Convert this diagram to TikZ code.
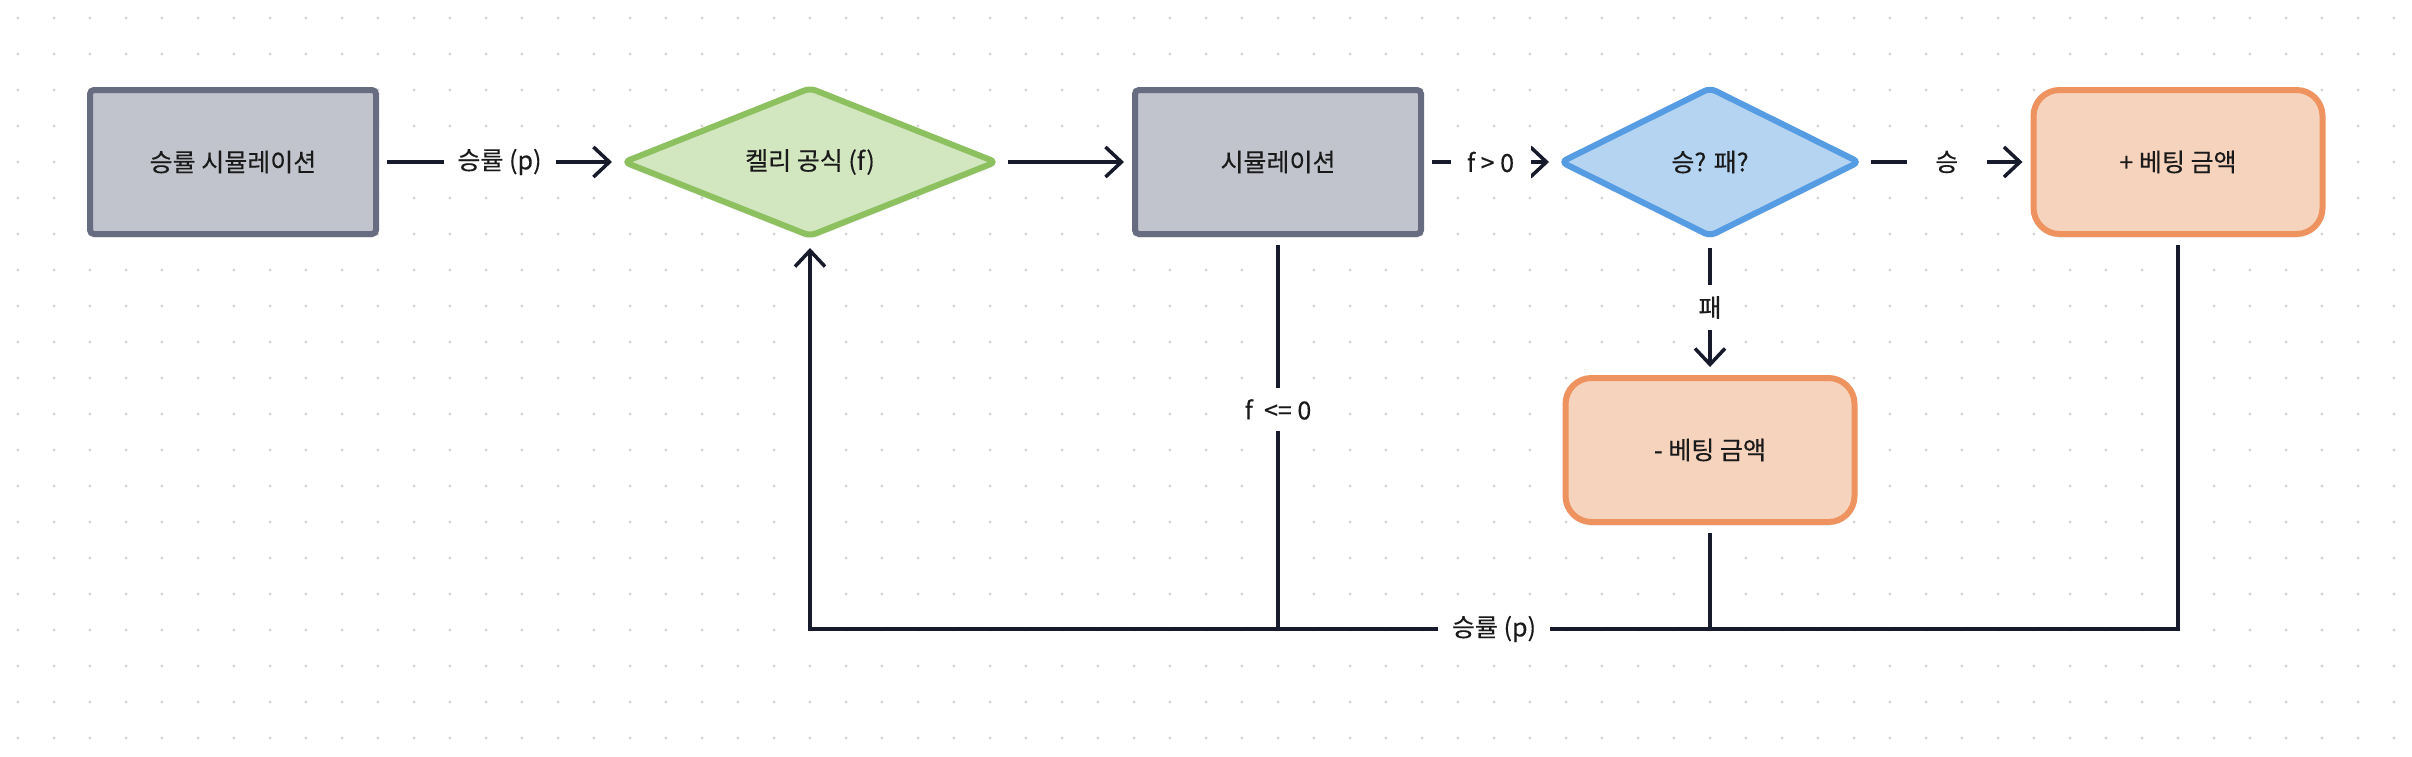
\documentclass[tikz,border=0pt]{standalone}
\usepackage{fontspec}
\setmainfont{Noto Sans CJK KR}[FakeBold=0.3]
\usepackage{tikz}
\usetikzlibrary{shapes,arrows.meta,shadows}
\definecolor{gridgray}{HTML}{D6D6D6}
\definecolor{linedark}{HTML}{161A2B}
\definecolor{textdark}{HTML}{1A1A1A}
\definecolor{greyfill}{HTML}{C1C4CC}
\definecolor{greydraw}{HTML}{676C81}
\definecolor{greenfill}{HTML}{D2E6C0}
\definecolor{greendraw}{HTML}{8DC05F}
\definecolor{bluefill}{HTML}{B5D4F2}
\definecolor{bluedraw}{HTML}{559CE2}
\definecolor{orangefill}{HTML}{F6D3BC}
\definecolor{orangedraw}{HTML}{EE935F}

\begin{document}
\begin{tikzpicture}[x=0.5pt,y=-0.5pt,
  every node/.append style={font=\fontsize{12.5}{15}\selectfont,text=textdark},
  >={Straight Barb[length=8pt,width=15pt]}]
  \tikzstyle{box} = [rectangle,draw=greydraw,fill=greyfill,line width=3pt,
    rounded corners=2pt,minimum width=143pt,minimum height=72pt,
    drop shadow={shadow xshift=0pt,shadow yshift=-2pt,opacity=0.08}]
  \tikzstyle{money} = [box,draw=orangedraw,fill=orangefill,rounded corners=13pt,
    minimum width=144.5pt]
  \tikzstyle{decision} = [diamond,line width=3pt,rounded corners=3pt,inner sep=0pt,
    aspect=2.4,minimum height=75pt,
    drop shadow={shadow xshift=0pt,shadow yshift=-2pt,opacity=0.08}]
  \tikzstyle{line} = [draw=linedark,line width=1.75pt,shorten <=4pt,shorten >=4pt]
  \tikzstyle{plain} = [draw=linedark,line width=1.75pt,shorten <=4pt]
  \tikzstyle{word} = [fill=white,inner xsep=7pt,inner ysep=5.5pt,minimum width=40pt]
  % background with dots
  \fill[white] (0,0) rectangle (2412,756);
  \useasboundingbox (0,0) rectangle (2412,756);
  \foreach \x in {18,54,...,2412}
    \foreach \y in {18,54,...,738}
      \fill[gridgray] (\x,\y) circle (0.85pt);
  % nodes
  \node (sim_p) [box] at (233,162) {승률 시뮬레이션};
  \node (kelly) [decision,draw=greendraw,fill=greenfill,minimum width=187pt] at (810,162) {켈리 공식 (f)};
  \node (sim) [box] at (1278,162) {시뮬레이션};
  \node (check) [decision,draw=bluedraw,fill=bluefill,minimum width=150pt] at (1710,162) {승? 패?};
  \node (win) [money] at (2178,162) {+ 베팅 금액};
  \node (lose) [money] at (1710,450) {- 베팅 금액};
  \coordinate (c_win) at (2178,629);
  \coordinate (c_kelly) at (810,629);
  % connectors
  \draw[line,->] (sim_p) -- node[word] {승률 (p)} (kelly);
  \draw[line,->] (kelly) -- (sim);
  \draw[line,->] (sim) -- node[word] {f > 0} (check);
  \draw[line,->] (check) -- node[word] {승} (win);
  \draw[line,->] (check) -- node[word,minimum width=0pt] {패} (lose);
  \draw[plain] (sim.south) -- node[word,pos=0.44] {f\ \ <= 0} (sim.south |- c_win);
  \draw[plain] (lose.south) -- (lose.south |- c_win);
  \draw[line,->] (win.south) -- (c_win) -- node[word] {승률 (p)} (c_kelly) -- (kelly.south);
\end{tikzpicture}
\end{document}
